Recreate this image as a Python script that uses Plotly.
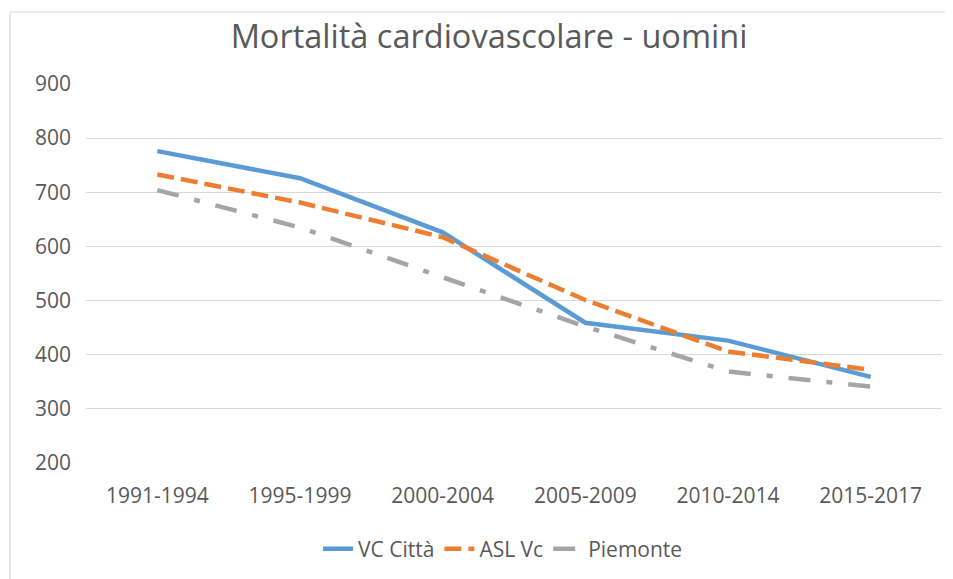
import plotly.graph_objects as go

periods = ['1991-1994', '1995-1999', '2000-2004', '2005-2009', '2010-2014', '2015-2017']
vc_citta = [776, 726, 626, 459, 426, 359]
asl_vc = [733, 681, 617, 501, 406, 372]
piemonte = [704, 635, 543, 452, 369, 341]

W, H = 953, 579
off = 8  # page body margin in the browser
left, top = 86 - off, 84 - off
right = W - (942 - off)
bottom = H - (463 - off)
pw = W - left - right
ph = H - top - bottom

text_col = '#595959'
grid_col = '#D9D9D9'
font_name = 'Open Sans'

fig = go.Figure()
fig.add_trace(go.Scatter(x=periods, y=vc_citta, name='VC Città', mode='lines',
                         line=dict(color='#5B9BD5', width=4.5)))
fig.add_trace(go.Scatter(x=periods, y=asl_vc, name='ASL Vc', mode='lines',
                         line=dict(color='#ED7D31', width=4.5, dash='17px,7px')))
fig.add_trace(go.Scatter(x=periods, y=piemonte, name='Piemonte', mode='lines',
                         line=dict(color='#A5A5A5', width=4.5, dash='22px,16px,6px,16px')))

# outer chart border (Excel-like frame)
fig.add_shape(type='rect', xref='paper', yref='paper',
              x0=(10 - off - left) / pw, x1=(W + 5 - left) / pw,
              y0=-(H + 5 - top - ph) / ph, y1=(top + ph - (12 - off)) / ph,
              line=dict(color=grid_col, width=1.2), layer='below')

fig.update_layout(
    width=W, height=H,
    margin=dict(l=left, r=right, t=top, b=bottom, autoexpand=False),
    paper_bgcolor='white', plot_bgcolor='white',
    font=dict(family=font_name, color=text_col, size=21),
    title=dict(text='Mortalità cardiovascolare - uomini', x=(489 - off - left) / pw,
               xanchor='center', xref='paper', y=1 - (37 - off) / H, yanchor='middle',
               font=dict(size=32.5, color=text_col, family=font_name)),
    showlegend=True,
    legend=dict(orientation='h', x=(503 - off - left) / pw, xanchor='center',
                y=-(549 - off - top - ph) / ph,
                yanchor='middle', font=dict(size=21, color=text_col),
                itemwidth=30, bgcolor='rgba(0,0,0,0)'),
    xaxis=dict(type='category', range=[-0.5, 5.5], showgrid=False, zeroline=False,
               showline=False, ticks='', ticklabelstandoff=18,
               tickfont=dict(size=21, color=text_col)),
    yaxis=dict(range=[200, 900], dtick=100, showgrid=True, gridcolor=grid_col, gridwidth=1.3,
               zeroline=False, showline=False, ticks='', ticklabelstandoff=14,
               tickfont=dict(size=21, color=text_col)),
)

fig.write_html('out.html')
